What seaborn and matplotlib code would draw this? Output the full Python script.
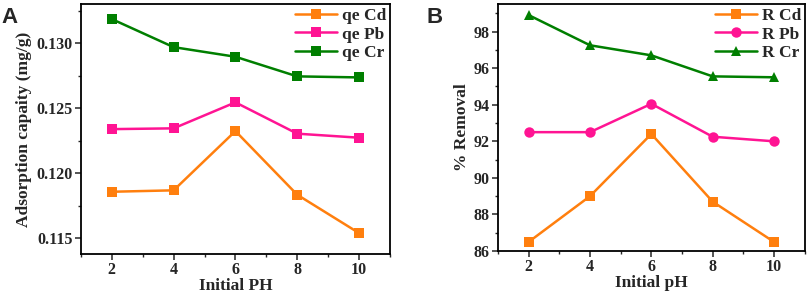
"""
Effect of initial pH on adsorption capacity (A) and % removal (B) of Cd, Pb, Cr.
"""

import numpy as np
import pandas as pd
import matplotlib
matplotlib.use('Agg')
import matplotlib.pyplot as plt
from matplotlib.ticker import MultipleLocator
import seaborn as sns

# Data
ph = [2, 4, 6, 8, 10]

qe_cd = [0.11856, 0.11867, 0.12323, 0.11833, 0.11538]
qe_pb = [0.12338, 0.12344, 0.12544, 0.12303, 0.12272]
qe_cr = [0.13185, 0.12969, 0.12895, 0.12744, 0.12736]

r_cd = [86.5, 89.0, 92.4, 88.7, 86.5]
r_pb = [92.5, 92.5, 94.05, 92.25, 92.0]
r_cr = [98.9, 97.25, 96.7, 95.55, 95.5]

labels_a = ['qe Cd', 'qe Pb', 'qe Cr']
labels_b = ['R Cd', 'R Pb', 'R Cr']
colors = ['#FF7F0E', '#FF1493', '#007F00']

sns.set_style('ticks')
plt.rcParams['font.family'] = ['Liberation Serif', 'DejaVu Serif']
plt.rcParams['font.weight'] = 'bold'
plt.rcParams['axes.labelweight'] = 'bold'


def long_df(series, labels):
    rows = []
    for vals, lab in zip(series, labels):
        for x, v in zip(ph, vals):
            rows.append({'pH': x, 'value': v, 'series': lab})
    return pd.DataFrame(rows)


df_a = long_df([qe_cd, qe_pb, qe_cr], labels_a)
df_b = long_df([r_cd, r_pb, r_cr], labels_b)

fig = plt.figure(figsize=(8.09, 2.95), dpi=100)
ax_a = fig.add_axes([0.100, 0.139, 0.382, 0.847])
ax_b = fig.add_axes([0.6156, 0.149, 0.379, 0.837])


def style_axis(ax):
    for s in ax.spines.values():
        s.set_linewidth(1.3)
        s.set_color('black')
    ax.xaxis.set_major_locator(MultipleLocator(2))
    ax.xaxis.set_minor_locator(MultipleLocator(1))
    ax.tick_params(which='major', direction='out', length=4, width=1.1,
                   labelsize=11.5, top=False, right=False, pad=2)
    ax.tick_params(which='minor', direction='out', length=2.5, width=1.0,
                   top=False, right=False)
    ax.set_xlim(1, 11)
    for lab in ax.get_xticklabels() + ax.get_yticklabels():
        lab.set_fontweight('bold')


def style_legend(ax):
    leg = ax.legend(loc='upper right', frameon=False, fontsize=12.5, handlelength=2.4,
                    borderaxespad=0.0, labelspacing=0.15, handletextpad=0.3,
                    borderpad=0.2)
    for t in leg.get_texts():
        t.set_fontweight('bold')


# Panel A
sns.lineplot(data=df_a, x='pH', y='value', hue='series', palette=colors,
             markers=['s', 's', 's'], style='series', dashes=False,
             markersize=7.5, markeredgewidth=0, linewidth=1.8, ax=ax_a)
ax_a.set_ylim(0.11377, 0.1330)
ax_a.yaxis.set_major_locator(MultipleLocator(0.005))
ax_a.yaxis.set_minor_locator(MultipleLocator(0.0025))
ax_a.yaxis.set_major_formatter(plt.FormatStrFormatter('%.3f'))
ax_a.set_xlabel('Initial PH', fontsize=12.5, fontweight='bold', labelpad=0)
ax_a.set_ylabel('Adsorption capaity (mg/g)', fontsize=12.5, fontweight='bold', labelpad=3)
style_axis(ax_a)
style_legend(ax_a)

# Panel B
sns.lineplot(data=df_b, x='pH', y='value', hue='series', palette=colors,
             markers=['s', 'o', '^'], style='series', dashes=False,
             markersize=7.5, markeredgewidth=0, linewidth=1.8, ax=ax_b)
ax_b.set_ylim(86, 99.5)
ax_b.yaxis.set_major_locator(MultipleLocator(2))
ax_b.yaxis.set_minor_locator(MultipleLocator(1))
ax_b.set_xlabel('Initial pH', fontsize=12.5, fontweight='bold', labelpad=0)
ax_b.set_ylabel('% Removal', fontsize=12.5, fontweight='bold', labelpad=3)
style_axis(ax_b)
style_legend(ax_b)

# Panel letters
fig.text(0.002, 0.975, 'A', fontsize=16, fontweight='bold',
         family='Liberation Sans', va='top', ha='left')
fig.text(0.527, 0.975, 'B', fontsize=16, fontweight='bold',
         family='Liberation Sans', va='top', ha='left')

fig.savefig('out.png', dpi=100)
